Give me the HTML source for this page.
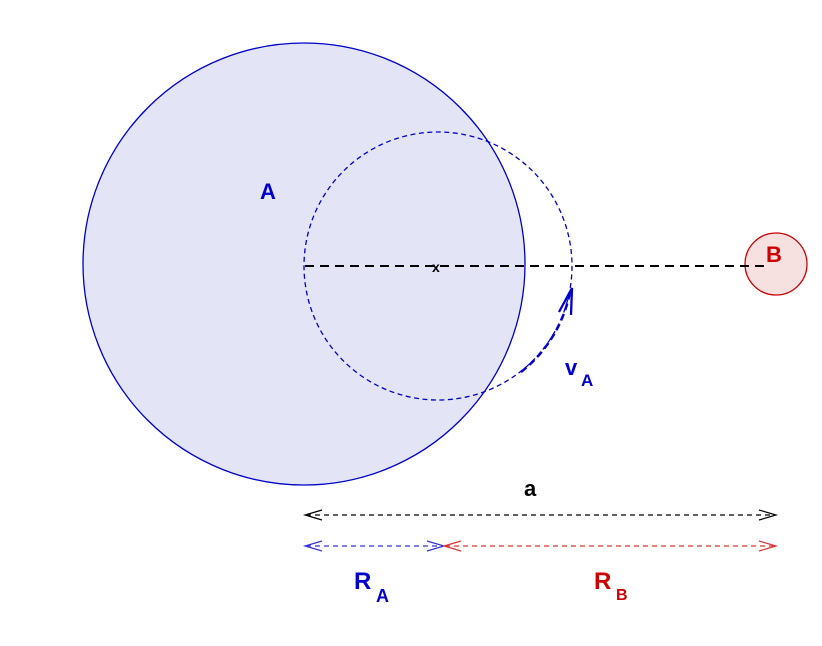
<!DOCTYPE html>
<html><head><style>body{margin:0;background:#fff}svg{display:block}text{font-family:"Liberation Sans",Arial,sans-serif;font-weight:bold}</style></head>
<body>
<svg width="822" height="646" viewBox="0 0 822 646" xmlns="http://www.w3.org/2000/svg">
<circle cx="304" cy="264" r="221" fill="#e3e5f7" stroke="#0000cc" stroke-width="1.3"/>
<circle cx="438" cy="266" r="134" fill="none" stroke="#0000cc" stroke-width="1.3" stroke-dasharray="5,3.5"/>
<circle cx="776" cy="264" r="31" fill="#f7e0e0" stroke="#cc0000" stroke-width="1.3"/>
<line x1="305" y1="266" x2="770" y2="266" stroke="#000" stroke-width="2" stroke-dasharray="9,6"/>
<text x="432" y="272" font-size="14" fill="#000">x</text>
<path d="M521,372 A134,134 0 0 0 570,292" fill="none" stroke="#0000cc" stroke-width="2.5" stroke-dasharray="7,4"/>
<path d="M559,312 L572,288 L571,315" fill="none" stroke="#0000cc" stroke-width="2.3"/>
<text x="260" y="199" font-size="22" fill="#0000cc">A</text>
<text x="766" y="262" font-size="22" fill="#cc0000">B</text>
<text x="565" y="375" font-size="22" fill="#0000cc">v</text>
<text x="581" y="386" font-size="17" fill="#0000cc">A</text>
<text x="524" y="496" font-size="22" fill="#000">a</text>
<text x="354" y="589" font-size="24" fill="#0000cc">R</text>
<text x="376" y="602" font-size="18" fill="#0000cc">A</text>
<text x="594" y="589" font-size="24" fill="#cc0000">R</text>
<text x="616" y="600" font-size="16" fill="#cc0000">B</text>
<g fill="none" stroke-width="1.2">
<line x1="306" y1="515" x2="775" y2="515" stroke="#000" stroke-dasharray="5,4"/>
<path d="M322,510 L305,515 L322,520 M759,510 L776,515 L759,520" stroke="#000"/>
<line x1="306" y1="546" x2="443" y2="546" stroke="#3333dd" stroke-dasharray="5,4"/>
<path d="M322,541 L305,546 L322,551 M427,541 L444,546 L427,551" stroke="#3333dd"/>
<line x1="445" y1="546" x2="775" y2="546" stroke="#dd3333" stroke-dasharray="5,4"/>
<path d="M461,541 L444,546 L461,551 M759,541 L776,546 L759,551" stroke="#dd3333"/>
</g>
</svg>
</body></html>
